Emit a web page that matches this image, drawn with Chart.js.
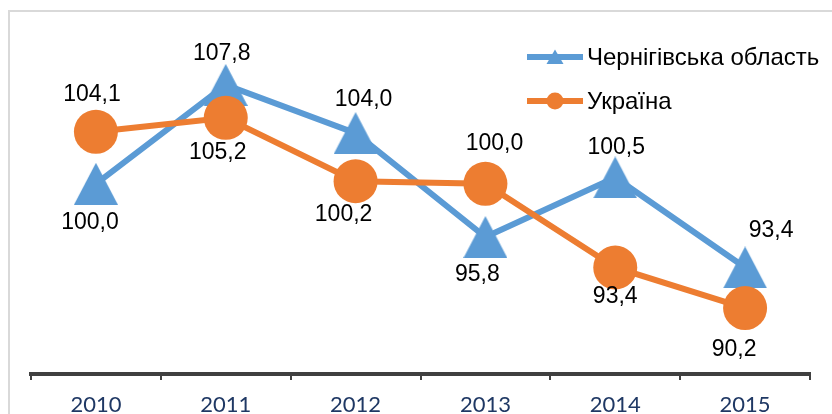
<!DOCTYPE html>
<html><head><meta charset="utf-8">
<script src="https://cdn.jsdelivr.net/npm/chart.js@4/dist/chart.umd.min.js"></script>
<style>html,body{margin:0;padding:0;background:#fff;overflow:hidden}#wrap{position:relative;width:832px;height:414px}</style>
</head><body><div id="wrap"><canvas id="c" width="832" height="414"></canvas></div>
<script>
// ---- data ----
const years = ['2010', '2011', '2012', '2013', '2014', '2015'];
const seriesNames = ['Чернігівська область', 'Україна'];
const chernihiv = [100.0, 107.8, 104.0, 95.8, 100.5, 93.4];
const ukraine = [104.1, 105.2, 100.2, 100.0, 93.4, 90.2];

// ---- styles ----
const BLUE = '#5B9BD5', ORANGE = '#ED7D31';
function makeTriangle(w, h, color) {
  const c = document.createElement('canvas');
  c.width = w; c.height = h;
  const x = c.getContext('2d');
  x.fillStyle = color;
  x.beginPath(); x.moveTo(w / 2, 0); x.lineTo(w, h); x.lineTo(0, h); x.closePath(); x.fill();
  return c;
}
const triBig = makeTriangle(44, 42, BLUE);
const fmt = v => v.toFixed(1).replace('.', ',');

// label offsets (dx, dy) relative to each point
const labelOffsets = [
  [[-6, 39], [-4, -31], [8, -33], [-8, 38], [1, -30], [26, -37]],
  [[-4, -37], [-8, 35], [-12, 33], [9, -40], [0, 29], [-11, 42]]
];

const frame = {
  id: 'frame',
  beforeDraw(chart) {
    const ctx = chart.ctx;
    ctx.save();
    ctx.strokeStyle = '#d9d9d9'; ctx.lineWidth = 2;
    ctx.strokeRect(9, 11, 900, 500);
    ctx.restore();
  }
};

const dataLabels = {
  id: 'dataLabels',
  afterDatasetsDraw(chart) {
    const ctx = chart.ctx;
    ctx.save();
    ctx.font = '23px "Liberation Sans", Arial, sans-serif';
    ctx.fillStyle = '#000';
    ctx.textAlign = 'center'; ctx.textBaseline = 'middle';
    chart.data.datasets.forEach((ds, di) => {
      const meta = chart.getDatasetMeta(di);
      meta.data.forEach((pt, i) => {
        const o = labelOffsets[di][i];
        ctx.fillText(fmt(ds.data[i]), pt.x + o[0], pt.y + o[1]);
      });
    });
    ctx.restore();
  }
};

const customLegend = {
  id: 'customLegend',
  afterDraw(chart) {
    const ctx = chart.ctx;
    ctx.save();
    const rows = [57, 101];
    chart.data.datasets.forEach((ds, di) => {
      const y = rows[di];
      ctx.strokeStyle = ds.borderColor; ctx.lineWidth = 6; ctx.lineCap = 'butt';
      ctx.beginPath(); ctx.moveTo(527, y); ctx.lineTo(583, y); ctx.stroke();
      ctx.fillStyle = ds.borderColor;
      if (di === 0) {
        ctx.beginPath(); ctx.moveTo(555, y - 7.5); ctx.lineTo(563.5, y + 7); ctx.lineTo(546.5, y + 7); ctx.closePath(); ctx.fill();
      } else {
        ctx.beginPath(); ctx.arc(555, y, 8.5, 0, Math.PI * 2); ctx.fill();
      }
      ctx.fillStyle = '#000';
      ctx.font = '24px "Liberation Sans", Arial, sans-serif';
      ctx.textAlign = 'left'; ctx.textBaseline = 'middle';
      ctx.fillText(ds.label, 587, y + 1);
    });
    ctx.restore();
  }
};

new Chart(document.getElementById('c'), {
  type: 'line',
  data: {
    labels: years,
    datasets: [
      {
        label: seriesNames[0], data: chernihiv, borderColor: BLUE, backgroundColor: BLUE,
        borderWidth: 6, tension: 0, pointStyle: triBig, pointRadius: 22, pointBorderWidth: 0,
        order: 1, clip: false
      },
      {
        label: seriesNames[1], data: ukraine, borderColor: ORANGE, backgroundColor: ORANGE,
        borderWidth: 6, tension: 0, pointStyle: 'circle', pointRadius: 22, pointBorderWidth: 0,
        pointBackgroundColor: ORANGE, order: 0, clip: false
      }
    ]
  },
  options: {
    responsive: false, devicePixelRatio: 1, animation: false,
    layout: { padding: { left: 31, right: 16, top: 57, bottom: 0 } },
    plugins: { legend: { display: false }, tooltip: { enabled: false } },
    scales: {
      x: {
        offset: true,
        grid: { display: true, drawOnChartArea: false, drawTicks: true, tickLength: 6, color: '#404040', lineWidth: 2, offset: true },
        border: { display: true, color: '#404040', width: 4 },
        ticks: { color: '#1F3864', font: { family: 'Lato', size: 22 }, padding: 12, maxRotation: 0 },
        afterFit(scale) { scale.height = 40; }
      },
      y: { display: false, min: 85, max: 110 }
    }
  },
  plugins: [frame, dataLabels, customLegend]
});
</script></body></html>
